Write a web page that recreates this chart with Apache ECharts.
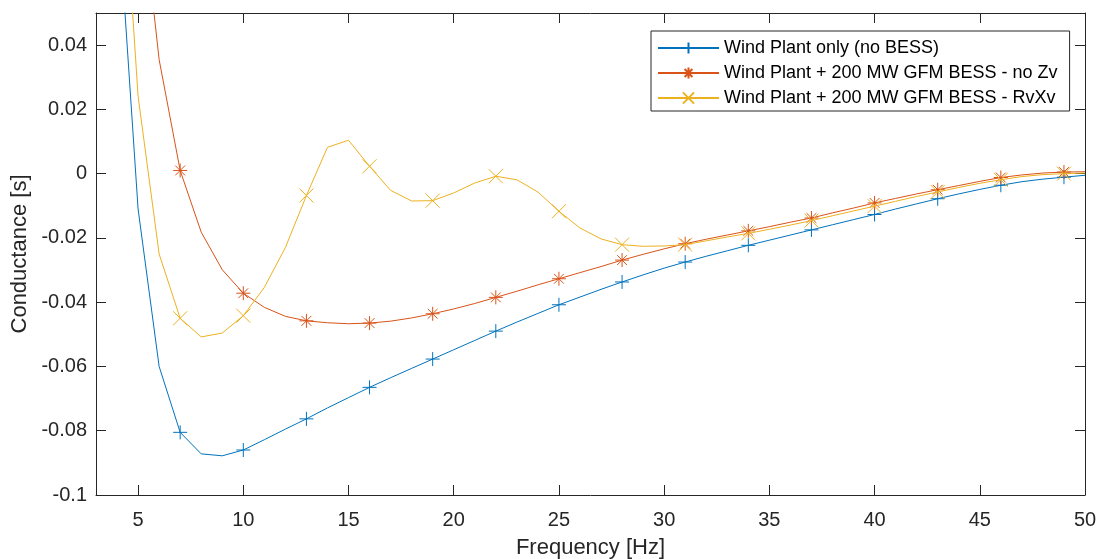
<!DOCTYPE html>
<html>
<head>
<meta charset="utf-8">
<script src="https://cdn.jsdelivr.net/npm/echarts@6/dist/echarts.min.js"></script>
<style>html,body{margin:0;padding:0;background:#fff}#c{width:1101px;height:559px}</style>
</head>
<body>
<div id="c"></div>
<script>
const freqs = [4,5,6,7,8,9,10,11,12,13,14,15,16,17,18,19,20,21,22,23,24,25,26,27,28,29,30,31,32,33,34,35,36,37,38,39,40,41,42,43,44,45,46,47,48,49,50];
const windOnly = [0.087,-0.011,-0.060,-0.0805,-0.0872,-0.0878,-0.0860,-0.0828,-0.0795,-0.0763,-0.0729,-0.0697,-0.0665,-0.0635,-0.0606,-0.0577,-0.0548,-0.0519,-0.0490,-0.0462,-0.0435,-0.0408,-0.0384,-0.0360,-0.0337,-0.0315,-0.0294,-0.0275,-0.0257,-0.0240,-0.0223,-0.0207,-0.0191,-0.0175,-0.0159,-0.0143,-0.0127,-0.0110,-0.0094,-0.0078,-0.0063,-0.0049,-0.0036,-0.0025,-0.0017,-0.0011,-0.0005];
const bessNoZv = [0.20,0.095,0.0355,0.0010,-0.0182,-0.0299,-0.0372,-0.0416,-0.0444,-0.0458,-0.0464,-0.0467,-0.0465,-0.0459,-0.0449,-0.0436,-0.0421,-0.0404,-0.0385,-0.0366,-0.0346,-0.0327,-0.0308,-0.0289,-0.0269,-0.0251,-0.0234,-0.0218,-0.0204,-0.0191,-0.0178,-0.0165,-0.0151,-0.0138,-0.0122,-0.0107,-0.0091,-0.0077,-0.0063,-0.0050,-0.0037,-0.0024,-0.0012,-0.0004,0.0002,0.0005,0.0006];
const bessRvXv = [0.124,0.0241,-0.0250,-0.0450,-0.0508,-0.0496,-0.0442,-0.0354,-0.0230,-0.0068,0.0082,0.0104,0.0023,-0.0052,-0.0085,-0.0084,-0.0060,-0.0029,-0.0008,-0.0019,-0.0057,-0.0117,-0.0169,-0.0203,-0.0221,-0.0226,-0.0225,-0.0221,-0.0209,-0.0197,-0.0186,-0.0173,-0.0160,-0.0146,-0.0131,-0.0116,-0.0101,-0.0086,-0.0071,-0.0057,-0.0043,-0.0030,-0.0019,-0.0009,-0.0003,0.0000,0.0002];
const markerFreqs = [7,10,13,16,19,22,25,28,31,34,37,40,43,46,49];
const seriesNames = ['Wind Plant only (no BESS)','Wind Plant + 200 MW GFM BESS - no Zv','Wind Plant + 200 MW GFM BESS - RvXv'];
const xTicks = [5,10,15,20,25,30,35,40,45,50];
const yTicks = [-0.1,-0.08,-0.06,-0.04,-0.02,0,0.02,0.04];

const colors = ['#0072BD','#D95319','#EDB120'];
const symbols = [
  'path://M6,0L6,12M0,6L12,6',
  'path://M6,0L6,12M0,6L12,6M1.8,1.8L10.2,10.2M1.8,10.2L10.2,1.8',
  'path://M0,0L12,12M0,12L12,0'
];
const FONT = '"Liberation Sans", Arial, Helvetica, sans-serif';
const AX = '#262626';

function build(vals) {
  return freqs.map((f, i) => {
    const item = { value: [f, vals[i]] };
    if (markerFreqs.indexOf(f) < 0) item.symbol = 'none';
    return item;
  });
}
const allVals = [windOnly, bessNoZv, bessRvXv];

const chart = echarts.init(document.getElementById('c'), null, { renderer: 'canvas' });
const axisCommon = {
  axisLine: { show: true, onZero: false, lineStyle: { color: AX, width: 1 } },
  splitLine: { show: false }
};
chart.setOption({
  animation: false,
  backgroundColor: '#fff',
  textStyle: { fontFamily: FONT },
  grid: { left: 96, right: 16, top: 13, bottom: 64, containLabel: false, outerBoundsMode: 'none' },
  legend: {
    orient: 'vertical',
    left: 651, top: 31,
    data: seriesNames,
    itemWidth: 61, itemHeight: 14, itemGap: 7,
    padding: [8, 12, 4, 6],
    backgroundColor: '#fff',
    borderColor: AX, borderWidth: 1,
    textStyle: { fontSize: 18, color: '#000', fontFamily: FONT },
    selectedMode: false
  },
  xAxis: [
    Object.assign({}, axisCommon, {
      type: 'value', min: 3, max: 50, position: 'bottom',
      name: 'Frequency [Hz]', nameLocation: 'middle', nameGap: 42,
      nameTextStyle: { fontSize: 22, color: AX, fontFamily: FONT },
      axisTick: { inside: true, length: 10, lineStyle: { color: AX }, customValues: xTicks },
      axisLabel: { fontSize: 20, color: AX, margin: 15, customValues: xTicks, fontFamily: FONT }
    }),
    Object.assign({}, axisCommon, {
      type: 'value', min: 3, max: 50, position: 'top',
      axisTick: { inside: true, length: 10, lineStyle: { color: AX }, customValues: xTicks },
      axisLabel: { show: false }
    })
  ],
  yAxis: [
    Object.assign({}, axisCommon, {
      type: 'value', min: -0.1, max: 0.05, position: 'left',
      name: 'Conductance [s]', nameLocation: 'middle', nameGap: 57,
      nameTextStyle: { fontSize: 22, color: AX, fontFamily: FONT },
      axisTick: { inside: true, length: 10, lineStyle: { color: AX }, customValues: yTicks },
      axisLabel: { fontSize: 20, color: AX, margin: 9, padding: [5, 0, 0, 0], customValues: yTicks, fontFamily: FONT,
        formatter: v => String(parseFloat(Number(v).toFixed(4))) }
    }),
    Object.assign({}, axisCommon, {
      type: 'value', min: -0.1, max: 0.05, position: 'right',
      axisTick: { inside: true, length: 10, lineStyle: { color: AX }, customValues: yTicks },
      axisLabel: { show: false }
    })
  ],
  series: seriesNames.map((n, k) => ({
    name: n,
    type: 'line',
    xAxisIndex: 0, yAxisIndex: 0,
    data: build(allVals[k]),
    symbol: symbols[k],
    symbolSize: 14,
    showSymbol: true,
    clip: true,
    color: colors[k],
    lineStyle: { color: colors[k], width: 1 },
    itemStyle: { color: colors[k], borderColor: colors[k], borderWidth: 1 },
    z: 2 + k
  }))
});
</script>
</body>
</html>
